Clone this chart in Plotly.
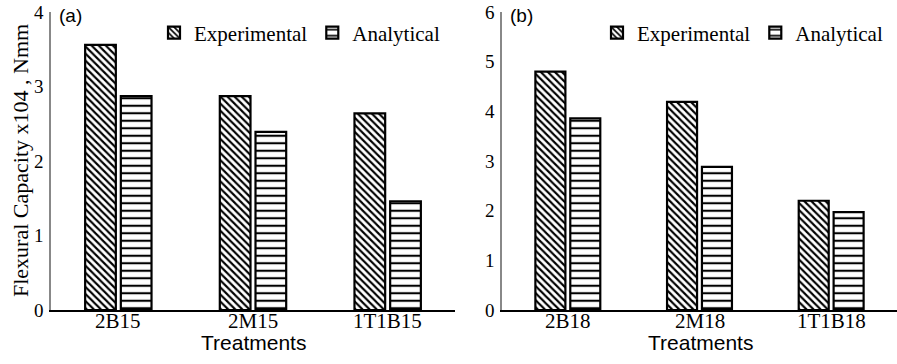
import plotly.graph_objects as go

cats_a = ["2B15", "2M15", "1T1B15"]
cats_b = ["2B18", "2M18", "1T1B18"]
exp_a = [3.56, 2.87, 2.64]
ana_a = [2.87, 2.39, 1.46]
exp_b = [4.80, 4.19, 2.20]
ana_b = [3.86, 2.88, 1.97]
series_names = ["Experimental", "Analytical"]
yticks_a = [0, 1, 2, 3, 4]
yticks_b = [0, 1, 2, 3, 4, 5, 6]

W, H = 897, 364
ML, MR, MT, MB = 0, 0, 12, 54

def px(x):
    return x / W

def py(y):
    return (H - MB - y) / (H - MT - MB)

serif = "Liberation Serif"
sans = "Liberation Sans"

exp_pattern = dict(shape="\\", fgcolor="black", bgcolor="white", size=5, solidity=0.42, fgopacity=1)
ana_pattern = dict(shape="-", fgcolor="black", bgcolor="white", size=7.5, solidity=0.28, fgopacity=1)

fig = go.Figure()
fig.add_trace(go.Bar(x=cats_a, y=exp_a, name=series_names[0], xaxis="x", yaxis="y",
                     marker=dict(color="white", pattern=exp_pattern, line=dict(color="black", width=2.2)),
                     legend="legend"))
fig.add_trace(go.Bar(x=cats_a, y=ana_a, name=series_names[1], xaxis="x", yaxis="y",
                     marker=dict(color="white", pattern=ana_pattern, line=dict(color="black", width=2.2)),
                     legend="legend"))
fig.add_trace(go.Bar(x=cats_b, y=exp_b, name=series_names[0], xaxis="x2", yaxis="y2",
                     marker=dict(color="white", pattern=exp_pattern, line=dict(color="black", width=2.2)),
                     legend="legend2"))
fig.add_trace(go.Bar(x=cats_b, y=ana_b, name=series_names[1], xaxis="x2", yaxis="y2",
                     marker=dict(color="white", pattern=ana_pattern, line=dict(color="black", width=2.2)),
                     legend="legend2"))

xa_common = dict(showline=True, linecolor="black", linewidth=2, ticks="", showgrid=False,
                 zeroline=False, showticklabels=False,
                 automargin=False, range=[-0.5, 2.5])
ya_common = dict(showline=True, linecolor="#888888", linewidth=1.5, ticks="", showgrid=False,
                 zeroline=False, tickfont=dict(family=serif, size=19, color="black"),
                 automargin=False, ticklabelstandoff=2)

fig.update_layout(
    width=W, height=H,
    margin=dict(l=ML, r=MR, t=MT, b=MB),
    paper_bgcolor="white", plot_bgcolor="white",
    barmode="group", bargap=0.47, bargroupgap=0.14,
    xaxis=dict(domain=[px(51), px(455)], anchor="y", **xa_common),
    yaxis=dict(domain=[0, 1], anchor="x", range=[0, 4], tickvals=yticks_a, **ya_common),
    xaxis2=dict(domain=[px(502), 1.0], anchor="y2", **xa_common),
    yaxis2=dict(domain=[0, 1], anchor="x2", range=[0, 6], tickvals=yticks_b, **ya_common),
    legend=dict(orientation="h", x=px(445), xanchor="right", y=py(33), yanchor="middle",
                font=dict(family=serif, size=21, color="black"), itemwidth=30,
                bgcolor="rgba(0,0,0,0)", traceorder="normal"),
    legend2=dict(orientation="h", x=px(888), xanchor="right", y=py(33), yanchor="middle",
                 font=dict(family=serif, size=21, color="black"), itemwidth=30,
                 bgcolor="rgba(0,0,0,0)", traceorder="normal"),
    showlegend=True,
)

# category tick labels, placed on the category axes
for xref, cats in (("x", cats_a), ("x2", cats_b)):
    for c in cats:
        fig.add_annotation(xref=xref, yref="paper", x=c, y=py(321), text=c, showarrow=False,
                           xanchor="center", yanchor="middle",
                           font=dict(family=serif, size=21, color="black"))

annos = [
    dict(text="Flexural Capacity x104 , Nmm", x=px(20), y=py(161), textangle=-90,
         font=dict(family=serif, size=22, color="black")),
    dict(text="Treatments", x=px(253), y=py(343), font=dict(family=sans, size=21, color="black")),
    dict(text="Treatments", x=px(700), y=py(343), font=dict(family=sans, size=21, color="black")),
    dict(text="(a)", x=px(57), y=py(15), xanchor="left", font=dict(family=sans, size=19, color="black")),
    dict(text="(b)", x=px(508), y=py(15), xanchor="left", font=dict(family=sans, size=19, color="black")),
]
for a in annos:
    a.setdefault("xanchor", "center")
    fig.add_annotation(xref="paper", yref="paper", showarrow=False, yanchor="middle", **a)

fig.write_html("out.html")
